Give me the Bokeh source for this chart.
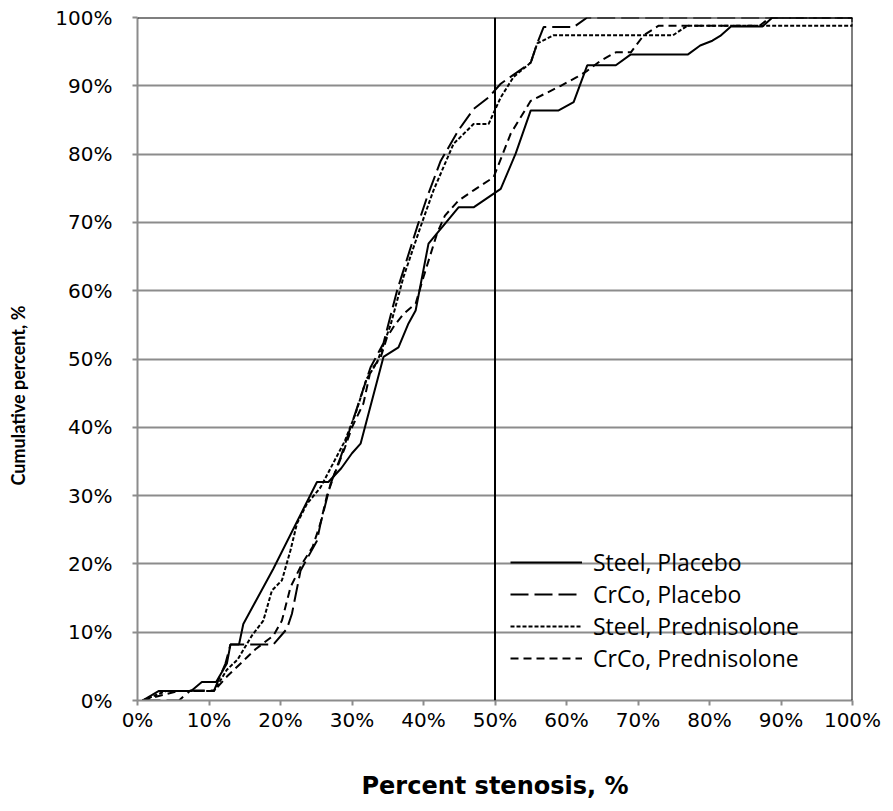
import math
from bokeh.plotting import figure
from bokeh.models import Span, Legend, LegendItem, FixedTicker, PrintfTickFormatter, Title, Range1d
from bokeh.embed import file_html
from bokeh.resources import INLINE

# ---- data (percent stenosis, cumulative percent) ----
steel_placebo_x = [0.7, 3, 7.5, 9, 11, 12.5, 13, 14.2, 14.8, 19, 25.1, 26.7, 28.5, 30, 31.2, 34.4, 36.5, 37.9, 38.9, 40.7, 43.8, 44.9, 47, 50.8, 52.9, 55, 58.9, 61, 62.9, 66.9, 69, 77, 78.7, 80.4, 81.5, 83, 87.4, 88.8, 100]
steel_placebo_y = [0, 1.4, 1.4, 2.7, 2.7, 5.4, 8.2, 8.2, 11.2, 19.3, 32, 32, 34, 36.2, 37.6, 50.3, 51.7, 55.2, 57.1, 66.9, 70.8, 72.2, 72.2, 74.9, 80.1, 86.4, 86.4, 87.6, 93, 93, 94.6, 94.6, 95.9, 96.6, 97.3, 98.7, 98.7, 100, 100]

crco_placebo_x = [0.7, 5.8, 7.4, 10.7, 12.3, 13, 19, 20.9, 21.6, 22.8, 25.1, 25.6, 27, 28.4, 29.8, 32.6, 34.4, 36.3, 39.1, 40.5, 42.4, 44.9, 47, 49.1, 50.8, 55, 55.9, 56.8, 61, 62.9, 100]
crco_placebo_y = [0, 0, 1.46, 1.46, 5.4, 8.2, 8.2, 10.5, 12.7, 19, 23.4, 25.9, 31.7, 35.6, 40, 48.8, 52.3, 60, 69.3, 73.7, 79, 83.5, 86.6, 88.3, 90.3, 93.4, 96.2, 98.6, 98.6, 100, 100]

steel_pred_x = [0.7, 4, 10.7, 12.5, 14, 16, 17.6, 18.8, 20.2, 21.4, 22.3, 23.7, 25.6, 27, 29, 30.5, 32, 33.5, 35.4, 37.2, 39.6, 41.4, 44.2, 47, 49.1, 50.8, 52.6, 55, 55.9, 58.2, 74.9, 76.9, 100, 100]
steel_pred_y = [0, 1.4, 1.4, 4.5, 6, 9.5, 11.7, 16.1, 17.6, 22, 25.9, 28.8, 31.2, 34, 38, 42, 47, 49.5, 55, 62, 69.4, 74.7, 81.5, 84.4, 84.4, 88.3, 91.3, 93.4, 96.2, 97.4, 97.4, 98.8, 98.8, 100]

crco_pred_x = [0.7, 3.5, 5.8, 10.7, 12.5, 14.5, 16.5, 19, 20.2, 21.4, 23, 24.5, 25.6, 26.5, 27.5, 29, 30, 31.6, 32.6, 34, 34.9, 36, 37.2, 38.9, 40, 41.9, 43, 44.9, 47, 49.8, 52.2, 55, 59.2, 61.5, 62.9, 64.8, 66.9, 69, 70.8, 72.9, 87, 88.5, 100]
crco_pred_y = [0, 0.8, 1.4, 1.4, 3.5, 5.5, 7.5, 9.5, 11.7, 16.6, 20, 22.5, 26, 30, 33, 37, 40, 43.5, 48.3, 50.2, 53.2, 55, 56.6, 58.1, 62, 68.4, 71, 73.2, 74.7, 76.6, 83, 87.8, 90, 91.3, 92.2, 93.7, 94.9, 94.9, 97.4, 98.8, 98.8, 100, 100]

series_labels = ["Steel, Placebo", "CrCo, Placebo", "Steel, Prednisolone", "CrCo, Prednisolone"]
x_ticks = [0, 10, 20, 30, 40, 50, 60, 70, 80, 90, 100]
y_ticks = [0, 10, 20, 30, 40, 50, 60, 70, 80, 90, 100]
ref_x = [50, 100]
ref_y = [100]

p = figure(width=885, height=803, output_backend="svg", toolbar_location=None,
           x_range=Range1d(0, 100), y_range=Range1d(0, 100),
           min_border_left=137, min_border_right=33, min_border_top=17, min_border_bottom=103)
p.outline_line_color = None
p.background_fill_color = "white"

GRAY = "#8c8c8c"
p.xgrid.grid_line_color = None
p.ygrid.grid_line_color = GRAY
p.ygrid.grid_line_width = 2
p.ygrid.ticker = FixedTicker(ticks=y_ticks)

for ax, ticks in ((p.xaxis, x_ticks), (p.yaxis, y_ticks)):
    ax.ticker = FixedTicker(ticks=ticks)
    ax.formatter = PrintfTickFormatter(format="%d%%")
    ax.axis_line_color = GRAY
    ax.axis_line_width = 2
    ax.major_tick_line_color = GRAY
    ax.major_tick_line_width = 2
    ax.major_tick_out = 5
    ax.major_tick_in = 0
    ax.minor_tick_line_color = None
    ax.major_label_text_font = "DejaVu Sans"
    ax.major_label_text_font_size = "20px"
    ax.major_label_text_color = "black"

p.xaxis.major_label_standoff = 2
p.yaxis.major_label_standoff = 20
p.xaxis.axis_label = "Percent stenosis, %"
p.xaxis.axis_label_text_font = "DejaVu Sans"
p.xaxis.axis_label_text_font_style = "bold"
p.xaxis.axis_label_text_font_size = "24px"
p.xaxis.axis_label_text_color = "black"
p.xaxis.axis_label_standoff = 37

# spacer between the y axis and its title, then the title itself
spacer = Title(text=" ", text_font_size="1px", standoff=20)
p.add_layout(spacer, "left")
ytitle = Title(text="Cumulative percent, %", align="left", offset=215, vertical_align="middle",
               text_font="Lato", text_font_style="bold", text_font_size="18px", text_color="black",
               standoff=0)
p.add_layout(ytitle, "left")

for loc in ref_x:
    p.add_layout(Span(location=loc, dimension="height", line_color="black", line_width=2))
for loc in ref_y:
    p.add_layout(Span(location=loc, dimension="width", line_color="black", line_width=2))

xs = [steel_placebo_x, crco_placebo_x, steel_pred_x, crco_pred_x]
ys = [steel_placebo_y, crco_placebo_y, steel_pred_y, crco_pred_y]
dashes = ["solid", "18 6", "4 2", "8 5"]
items = []
for x, y, d, lab in zip(xs, ys, dashes, series_labels):
    r = p.line(x, y, line_color="black", line_width=2, line_dash=d)
    items.append(LegendItem(label=lab, renderers=[r]))

legend = Legend(items=items, location=(373, 26), glyph_width=72, glyph_height=22, label_height=22,
                spacing=0, label_standoff=11, padding=0, margin=0,
                border_line_color=None, background_fill_alpha=0,
                label_text_font="Open Sans", label_text_font_size="23px", label_text_color="black")
p.add_layout(legend)

open("out.html", "w").write(file_html(p, INLINE))
